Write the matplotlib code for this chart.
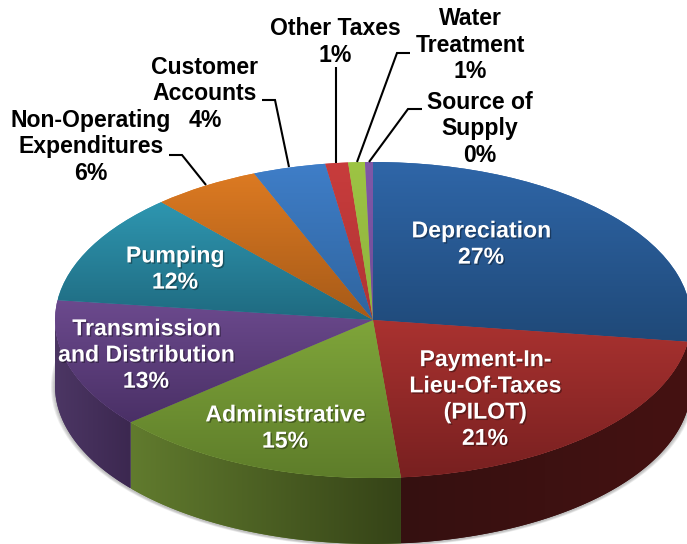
import numpy as np
import matplotlib
matplotlib.use('Agg')
import matplotlib.pyplot as plt
import matplotlib.patheffects as pe
from matplotlib.colors import LinearSegmentedColormap
from matplotlib.patches import PathPatch
from matplotlib.path import Path

plt.rcParams['font.family'] = ['Liberation Sans', 'DejaVu Sans']

categories = ['Depreciation', 'Payment-In-\nLieu-Of-Taxes\n(PILOT)', 'Administrative',
              'Transmission\nand Distribution', 'Pumping', 'Non-Operating\nExpenditures',
              'Customer\nAccounts', 'Other Taxes', 'Water\nTreatment', 'Source of\nSupply']
values = [27.2, 21.4, 15.2, 13.2, 11.4, 5.5, 3.7, 1.15, 0.85, 0.4]
percents = [27, 21, 15, 13, 12, 6, 4, 1, 1, 0]

top_colors = [('#2f66a8', '#1f4978'), ('#aa3230', '#782020'), ('#7fa53a', '#5e7d2a'),
              ('#6c4a8e', '#4a3066'), ('#2e96b0', '#1f6a80'), ('#dc7a22', '#a65a18'),
              ('#3f7ec8', '#2f649e'), ('#c83c3c', '#b03434'), ('#9dc444', '#8fb23e'),
              ('#8058a8', '#6f4c96')]
wall_colors = [('#18365c', '#18365c'), ('#351010', '#451212'), ('#617b2e', '#354317'),
               ('#4c3664', '#3c2850'), ('#164c5c', '#164c5c'), ('#7a4210', '#7a4210'),
               ('#244c78', '#244c78'), ('#6a1c1c', '#6a1c1c'), ('#55702a', '#55702a'),
               ('#3f2a55', '#3f2a55')]

# label centres and leader lines, in pixels of the picture
label_pos = [(481, 244), (485, 399), (285, 428), (146, 355), (175, 269),
             (91, 147), (205, 94), (335, 42), (470, 45), (480, 129)]
inside = [True] * 5 + [False] * 5
leaders = [[(169, 155), (182, 155), (206, 185)],
           [(262, 100), (275, 100), (289, 167)],
           [(336, 67), (336, 163)],
           [(410, 53), (397, 53), (357, 162)],
           [(422, 109), (408, 109), (369, 162)]]

width, height, dpi = 687, 544, 100
cx, cy, rx, ry, depth = 373, 320, 318, 158, 66
k = rx / ry  # data units per pixel in y, this squashes the pie


def py(y):
    return (height - y) * k


def gradient(ax, box, c1, c2, horizontal, clip, z):
    # box is x0, x1, y0, y1 in data units; gradient runs left-right or top-bottom
    cmap = LinearSegmentedColormap.from_list('g', [c1, c2])
    ramp = np.linspace(0, 1, 256)
    img = ramp.reshape(1, -1) if horizontal else ramp.reshape(-1, 1)
    im = ax.imshow(img, cmap=cmap, extent=(box[0], box[1], box[2], box[3]), origin='upper',
                   aspect='auto', zorder=z, interpolation='bilinear')
    im.set_clip_path(clip)


fig = plt.figure(figsize=(width / dpi, height / dpi), dpi=dpi)
ax = fig.add_axes([0, 0, 1, 1])

# soft shadow under the pie
for i in range(1, 5):
    ax.pie([1], colors=['#707070'], radius=rx + i, center=(cx, py(cy + depth + 1)),
           wedgeprops={'alpha': 0.13, 'linewidth': 0, 'zorder': 1})

# top of the pie
wedges, _ = ax.pie(values, colors=[c[0] for c in top_colors], radius=rx, center=(cx, py(cy)),
                   startangle=90, counterclock=False,
                   wedgeprops={'linewidth': 0, 'zorder': 4})

# side wall, only the front half shows
for w, cols in zip(wedges, wall_colors):
    th = np.linspace(w.theta1, w.theta2, 200)
    th = th[np.sin(np.radians(th)) <= 0]
    if len(th) < 2:
        continue
    xs = cx + rx * np.cos(np.radians(th))
    ys = py(cy) + rx * np.sin(np.radians(th))
    down = depth * k
    pts = np.column_stack([np.r_[xs, xs[::-1]], np.r_[ys, ys[::-1] - down]])
    patch = PathPatch(Path(np.vstack([pts, pts[:1]])), facecolor=cols[0], linewidth=0, zorder=2)
    ax.add_patch(patch)
    gradient(ax, (xs.min(), xs.max(), (ys - down).min(), ys.max()), cols[0], cols[1], True, patch, 3)

# gradient on the top, dark toward the front
for w, cols in zip(wedges, top_colors):
    th = np.linspace(w.theta1, w.theta2, 100)
    ys = np.r_[py(cy), py(cy) + rx * np.sin(np.radians(th))]
    xs = np.r_[cx, cx + rx * np.cos(np.radians(th))]
    gradient(ax, (xs.min(), xs.max(), ys.min(), ys.max()), cols[0], cols[1], False, w, 5)

ax.set_aspect('auto')
ax.set_xlim(0, width)
ax.set_ylim(0, height * k)
ax.axis('off')

# overlay in pixels for the labels
over = fig.add_axes([0, 0, 1, 1])
over.set_xlim(0, width)
over.set_ylim(height, 0)
over.axis('off')
over.patch.set_alpha(0)

for line in leaders:
    over.plot([p[0] for p in line], [p[1] for p in line], color='black', lw=1.5,
              solid_joinstyle='miter', solid_capstyle='butt')

for name, pct, pos, white in zip(categories, percents, label_pos, inside):
    t = over.text(pos[0], pos[1], '%s\n%d%%' % (name, pct), ha='center', va='center',
                  fontsize=16.6, fontweight='bold', linespacing=1.18,
                  color='white' if white else 'black')
    if white:
        t.set_path_effects([pe.withSimplePatchShadow(offset=(1, -1), shadow_rgbFace='black', alpha=0.35)])

fig.savefig('out.png', dpi=dpi)
plt.close(fig)
